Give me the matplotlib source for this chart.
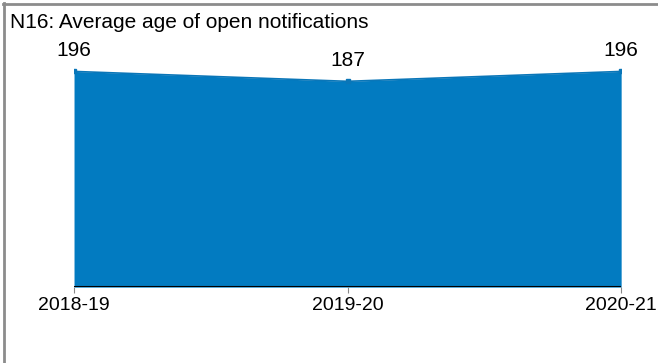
import matplotlib.pyplot as plt

years = ["2018-19", "2019-20", "2020-21"]
avg_age = [196, 187, 196]

plt.rcParams["font.family"] = ["Liberation Sans", "DejaVu Sans"]

fig = plt.figure(figsize=(6.58, 3.63), dpi=100)
ax = fig.add_axes([0.1125, 0.209, 0.8315, 0.667])

x = list(range(len(years)))
ax.fill_between(x, avg_age, 0, color="#027bc1", linewidth=0)
ax.plot(x, avg_age, color="#0a76b8", linewidth=1.2, marker="s", markersize=3)
ax.axhline(0, color="black", linewidth=2.2, zorder=5)

for xi, v in zip(x, avg_age):
    ax.annotate(str(v), (xi, v), xytext=(0, 8), textcoords="offset points",
                ha="center", va="bottom", fontsize=15)

ax.set_xlim(0, len(years) - 1)
ax.set_ylim(0, 220)
ax.set_xticks(x)
ax.set_xticklabels(years, fontsize=14)
ax.set_yticks([])
ax.tick_params(axis="x", length=4, color="#888888", pad=3)
for side in ["top", "right", "left", "bottom"]:
    ax.spines[side].set_visible(False)

fig.text(10 / 658, 1 - 22 / 363, "N16: Average age of open notifications",
         fontsize=15, ha="left", va="center")

# grey frame along the top and left edges
fig.add_artist(plt.Line2D([3 / 658, 1], [1 - 3.5 / 363, 1 - 3.5 / 363],
                          color="#8c8c8c", linewidth=2))
fig.add_artist(plt.Line2D([3.5 / 658, 3.5 / 658], [0, 1 - 3 / 363],
                          color="#8c8c8c", linewidth=2))

fig.savefig("out.png", dpi=100)
